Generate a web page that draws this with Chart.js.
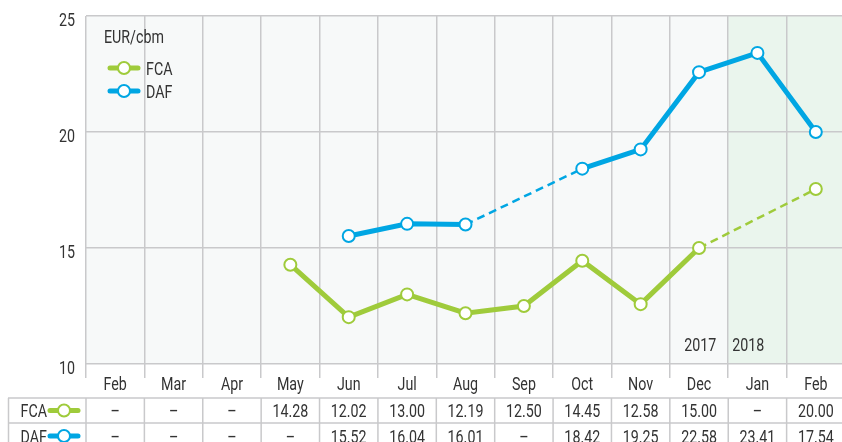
<!DOCTYPE html>
<html>
<head>
<meta charset="utf-8">
<script src="https://cdn.jsdelivr.net/npm/chart.js@4.4.0/dist/chart.umd.min.js"></script>
<style>
  html, body { margin: 0; padding: 0; background: #fff; overflow: hidden; }
  #wrap { width: 842px; height: 442px; overflow: hidden; }
  #wrap canvas { display: block; }
</style>
</head>
<body>
<div id="wrap"><canvas id="priceChart" width="845" height="442" style="width:845px;height:442px"></canvas></div>
<script>
// ========== DATA ==========
const months = ["Feb", "Mar", "Apr", "May", "Jun", "Jul", "Aug", "Sep", "Oct", "Nov", "Dec", "Jan", "Feb"];
const fcaValues = [null, null, null, 14.28, 12.02, 13.00, 12.19, 12.50, 14.45, 12.58, 15.00, null, 17.54];
const dafValues = [null, null, null, null, 15.52, 16.04, 16.01, null, 18.42, 19.25, 22.58, 23.41, 20.00];
const fcaTable = ["–", "–", "–", "14.28", "12.02", "13.00", "12.19", "12.50", "14.45", "12.58", "15.00", "–", "20.00"];
const dafTable = ["–", "–", "–", "–", "15.52", "16.04", "16.01", "–", "18.42", "19.25", "22.58", "23.41", "17.54"];
const seriesNames = ["FCA", "DAF"];
const yearLabels = ["2017", "2018"];
const unitLabel = "EUR/cbm";

// ========== STYLE ==========
const FONT = 'Roboto, "DejaVu Sans", sans-serif';
const SQUEEZE = 0.75; // condensed look
const TEXT = "#333";
const GRID = "#c9c9cb";
const GREEN = "#9fcb3b";
const BLUE = "#00a6e3";

// draws condensed text centred vertically on cy
function label(ctx, str, x, cy, align, size) {
  ctx.save();
  ctx.font = `${size}px ${FONT}`;
  ctx.fillStyle = TEXT;
  ctx.textAlign = align;
  ctx.textBaseline = "alphabetic";
  ctx.translate(x, cy + size * 0.355);
  ctx.scale(SQUEEZE, 1);
  ctx.fillText(str, 0, 0);
  ctx.restore();
}

function drawSymbol(ctx, x1, x2, cy, color) {
  ctx.save();
  ctx.strokeStyle = color;
  ctx.lineWidth = 5;
  ctx.lineCap = "round";
  ctx.beginPath();
  ctx.moveTo(x1, cy);
  ctx.lineTo(x2, cy);
  ctx.stroke();
  ctx.beginPath();
  ctx.arc((x1 + x2) / 2, cy, 6, 0, Math.PI * 2);
  ctx.fillStyle = "#fff";
  ctx.fill();
  ctx.lineWidth = 2;
  ctx.stroke();
  ctx.restore();
}

// segments that bridge a missing month get a thin dashed line
const isGap = (c) => c.p0.skip || c.p1.skip;

const backgroundPlugin = {
  id: "plotBackground",
  beforeDraw(chart) {
    const { ctx, chartArea: a, scales: { x } } = chart;
    const half = (x.getPixelForValue(1) - x.getPixelForValue(0)) / 2;
    const split = x.getPixelForValue(11) - half;
    ctx.save();
    ctx.fillStyle = "#f7f9f9";
    ctx.fillRect(a.left, a.top, a.right - a.left, a.bottom - a.top);
    ctx.fillStyle = "#eaf5ed";
    ctx.fillRect(split, a.top, a.right - split, a.bottom - a.top);
    ctx.restore();
  },
};

const annotationPlugin = {
  id: "tableAndLabels",
  afterDraw(chart) {
    const { ctx, chartArea: a, scales: { x, y } } = chart;
    const half = (x.getPixelForValue(1) - x.getPixelForValue(0)) / 2;

    // y tick labels
    y.ticks.forEach((t) => label(ctx, String(t.value), 75, y.getPixelForValue(t.value) + 3, "right", 19));

    // legend
    label(ctx, unitLabel, 104, 36, "left", 19);
    drawSymbol(ctx, 110, 138, 68, GREEN);
    drawSymbol(ctx, 110, 138, 91, BLUE);
    label(ctx, seriesNames[0], 146, 68, "left", 19);
    label(ctx, seriesNames[1], 146, 91, "left", 19);

    // years
    const split = x.getPixelForValue(11) - half;
    label(ctx, yearLabels[0], split - 12, 344, "right", 19);
    label(ctx, yearLabels[1], split + 4, 344, "left", 19);

    // month labels
    months.forEach((m, i) => label(ctx, m, x.getPixelForValue(i), 383, "center", 19));

    // table grid
    const top = 398, mid = 423, bottom = 442;
    ctx.save();
    ctx.strokeStyle = GRID;
    ctx.lineWidth = 1.5;
    ctx.beginPath();
    ctx.moveTo(8, top); ctx.lineTo(a.right, top);
    ctx.moveTo(8, mid); ctx.lineTo(a.right, mid);
    ctx.moveTo(8.5, top); ctx.lineTo(8.5, bottom);
    for (let i = 0; i <= months.length; i++) {
      const bx = x.getPixelForValue(i) - half;
      ctx.moveTo(bx, top); ctx.lineTo(bx, bottom);
    }
    ctx.stroke();
    ctx.restore();

    // table row labels
    label(ctx, seriesNames[0], 47, 410.5, "right", 19);
    label(ctx, seriesNames[1], 47, 436, "right", 19);
    drawSymbol(ctx, 50, 78, 410.5, GREEN);
    drawSymbol(ctx, 50, 78, 436, BLUE);

    // table values
    months.forEach((m, i) => {
      const cx = x.getPixelForValue(i);
      label(ctx, fcaTable[i], cx, 410.5, "center", 19);
      label(ctx, dafTable[i], cx, 436, "center", 19);
    });
  },
};

function lineDataset(name, data, color) {
  return {
    label: name,
    data,
    borderColor: color,
    borderWidth: 5,
    pointRadius: 6,
    pointBorderWidth: 2,
    pointBackgroundColor: "#fff",
    pointBorderColor: color,
    spanGaps: true,
    tension: 0,
    segment: {
      borderDash: (c) => (isGap(c) ? [8, 5] : undefined),
      borderWidth: (c) => (isGap(c) ? 2.5 : undefined),
    },
  };
}

new Chart(document.getElementById("priceChart"), {
  type: "line",
  data: {
    labels: months,
    datasets: [
      lineDataset(seriesNames[0], fcaValues, GREEN),
      lineDataset(seriesNames[1], dafValues, BLUE),
    ],
  },
  options: {
    responsive: false,
    animation: false,
    layout: { autoPadding: false, padding: { top: 16, left: 0, right: 0, bottom: 0 } },
    plugins: { legend: { display: false }, tooltip: { enabled: false } },
    scales: {
      x: {
        offset: true,
        grid: { offset: true, color: GRID, lineWidth: 1.5, drawTicks: true, tickLength: 14 },
        border: { display: false },
        ticks: { display: false },
        afterFit: (s) => { s.height = 78; },
      },
      y: {
        min: 10,
        max: 25,
        ticks: { display: false, stepSize: 5 },
        grid: { color: GRID, lineWidth: 1.5, drawTicks: false },
        border: { display: false },
        afterFit: (s) => { s.width = 86; },
      },
    },
  },
  plugins: [backgroundPlugin, annotationPlugin],
});
</script>
</body>
</html>
